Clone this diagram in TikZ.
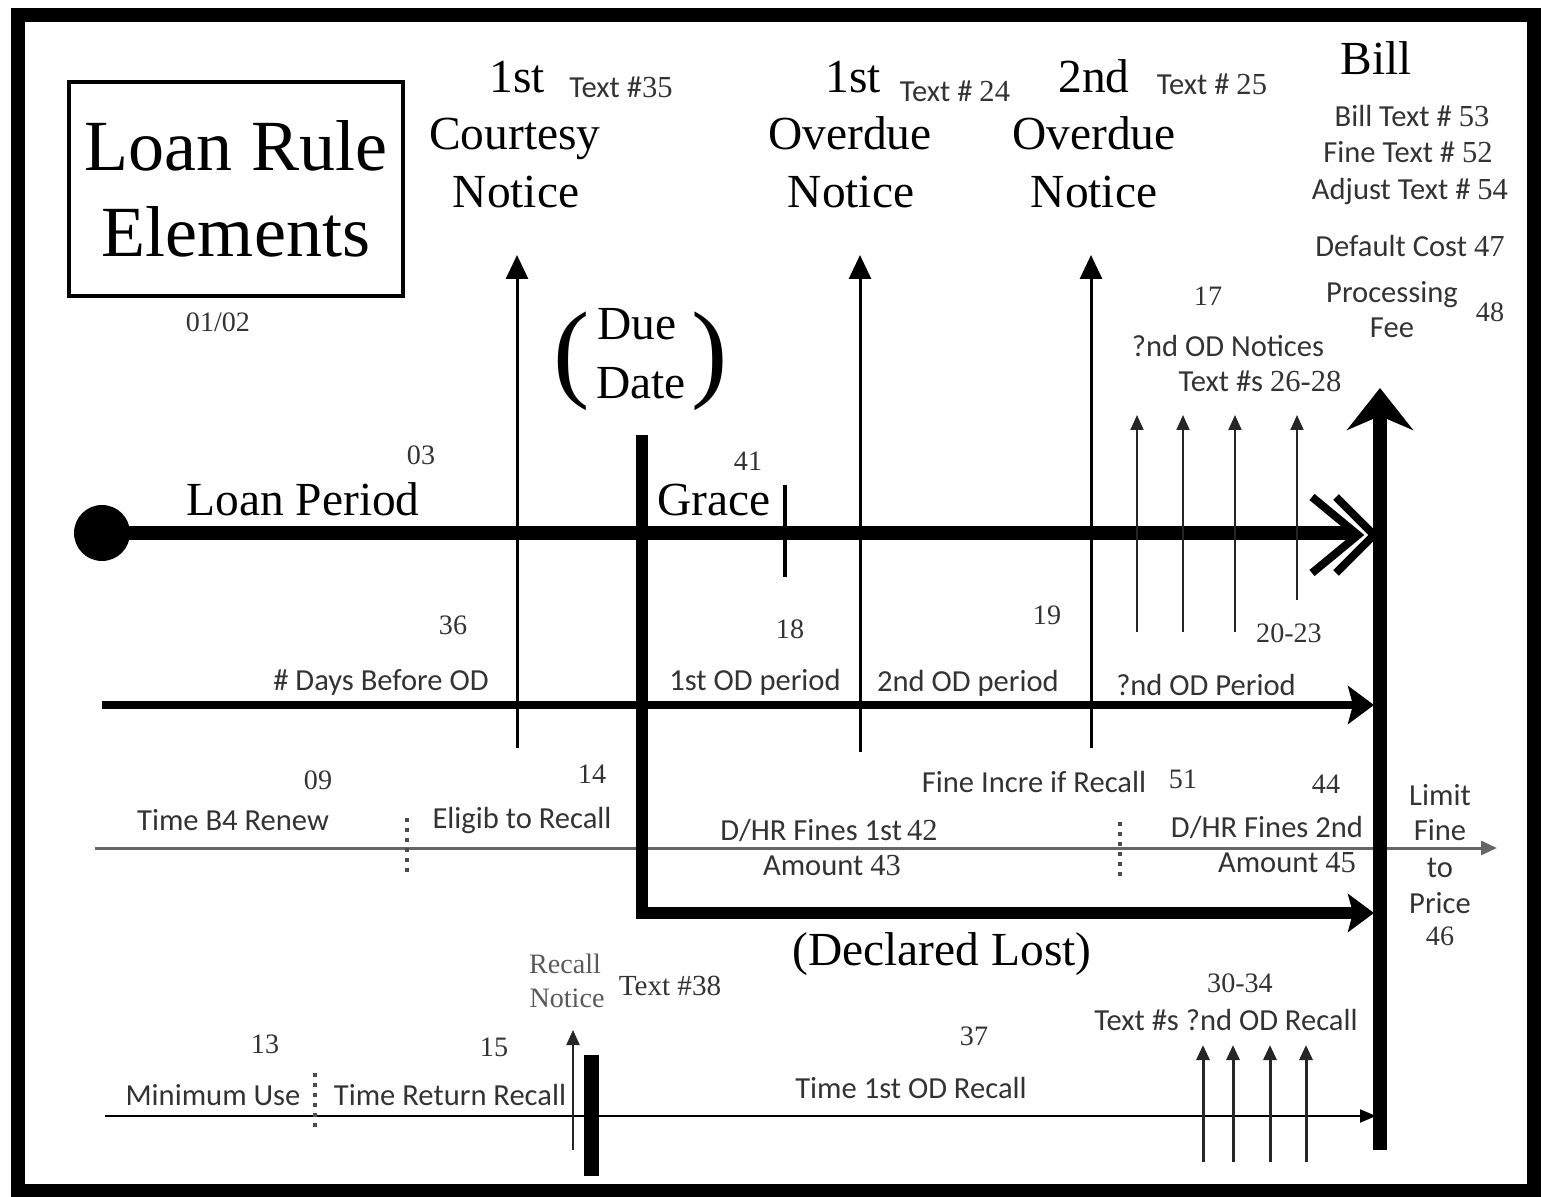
\documentclass[tikz,border=0pt]{standalone}
\usepackage{fontspec}
\setmainfont{Liberation Serif}
\newfontfamily\lblfont{Carlito}
\usetikzlibrary{arrows.meta,positioning}
\newcommand\serifnum[1]{{\rmfamily #1}}

\begin{document}
\begin{tikzpicture}[x=0.1mm,y=-0.1mm]
\useasboundingbox (0,0) rectangle (1542,1197);
% Loan rule timeline. Units are pixels of the 1542 x 1197 sheet, y downwards.
\tikzset{
  big/.style={font=\fontsize{13.5}{15}\selectfont,inner sep=0pt,anchor=base},
  lbl/.style={font=\lblfont\fontsize{8.7}{10}\selectfont,text=black!80,inner sep=0pt,anchor=base},
  num/.style={font=\fontsize{8}{9}\selectfont,text=black!80,inner sep=0pt,anchor=base},
  paren/.style={font=\fontsize{31}{33}\selectfont,inner sep=0pt},
  notice/.style={line width=0.3mm,-{Triangle[length=2.4mm,width=2.2mm]}},
  pin/.style={line width=0.2mm,black!85,-{Triangle[length=1.5mm,width=1.3mm]}},
  divider/.style={line width=0.35mm,black!70,dash pattern=on 0.4mm off 0.6mm},
  heavy/.style={-{Stealth[length=2.6mm,width=3.8mm,inset=0.5mm]}}
}

% Frame and title.
\draw[line width=1.4mm] (18,15) rectangle (1534,1191);
\node[draw,line width=0.45mm,minimum width=33.4mm,minimum height=21.4mm,align=center,
  font=\fontsize{20.5}{24.5}\selectfont] (title) at (236,189) {Loan Rule\\Elements};
\node[num] (titlenum) at (218,332) {01/02};

% Notices along the top.
\node[big] (cn1) at (517,93) {1st};
\node[lbl] (cntext) at (621,98) {Text \#\serifnum{35}};
\node[big] (cn2) at (515,150) {Courtesy};
\node[big] (cn3) at (516,208) {Notice};
\node[big] (on1) at (853,93) {1st};
\node[lbl] (ontext) at (955,102) {Text \# \serifnum{24}};
\node[big] (on2) at (850,150) {Overdue};
\node[big] (on3) at (851,208) {Notice};
\node[big] (tn1) at (1094,93) {2nd};
\node[lbl] (tntext) at (1212,95) {Text \# \serifnum{25}};
\node[big] (tn2) at (1094,150) {Overdue};
\node[big] (tn3) at (1094,208) {Notice};

% Bill block.
\node[big] (bill) at (1376,75) {Bill};
\node[lbl] (billtext) at (1412,127) {Bill Text \# \serifnum{53}};
\node[lbl] (finetext) at (1408,163) {Fine Text \# \serifnum{52}};
\node[lbl] (adjtext) at (1410,200) {Adjust Text \# \serifnum{54}};
\node[lbl] (defcost) at (1410,257) {Default Cost \serifnum{47}};
\node[lbl] (proc1) at (1392,303) {Processing};
\node[lbl] (proc2) at (1392,338) {Fee};
\node[num] (procnum) at (1490,322) {48};
\node[num] (odnum) at (1208,306) {17};
\node[lbl] (odn1) at (1228,357) {?nd OD Notices};
\node[lbl] (odn2) at (1260,392) {Text \#s \serifnum{26-28}};

% Due date.
\node[paren] (lpar) at (572,361) {(};
\node[paren] (rpar) at (710,361) {)};
\node[big] (due1) at (637,340) {Due};
\node[big] (due2) at (641,398) {Date};

% Loan period line.
\node[num] (lpnum) at (421,464) {03};
\node[big] (lp) at (303,516) {Loan Period};
\node[num] (grnum) at (748,470) {41};
\node[big] (grace) at (714,516) {Grace};
\node[circle,fill,minimum size=5.6mm,inner sep=0pt] (start) at (102,533) {};
\coordinate (lpend) at (1352,533);
\draw[line width=1.4mm] (start.center) -- (lpend);
\draw[line width=0.8mm] (1312,497) -- (1358,535) -- (1312,573);
\draw[line width=0.8mm] (1336,497) -- (1374,535) -- (1336,573);
\draw[line width=0.4mm] (785,485) -- (785,577);

% Overdue periods.
\node[num] (dbnum) at (453,635) {36};
\node[lbl] (db) at (381,690) {\# Days Before OD};
\node[num] (p1num) at (790,638) {18};
\node[lbl] (p1) at (755,690) {1st OD period};
\node[num] (p2num) at (1047,624) {19};
\node[lbl] (p2) at (968,691) {2nd OD period};
\node[num] (p3num) at (1289,642) {20-23};
\node[lbl] (p3) at (1206,695) {?nd OD Period};
\coordinate (odstart) at (102,705);
\coordinate (odtip) at (1374,705);
\draw[line width=0.8mm,heavy] (odstart) -- (odtip);

% Notice arrows.
\coordinate (cnfoot) at (517,748);
\coordinate (cntip) at (517,255);
\draw[notice] (cnfoot) -- (cntip);
\coordinate (onfoot) at (860,752);
\coordinate (ontip) at (860,255);
\draw[notice] (onfoot) -- (ontip);
\coordinate (tnfoot) at (1091,748);
\coordinate (tntip) at (1091,255);
\draw[notice] (tnfoot) -- (tntip);
\foreach \x/\y in {1137/632,1183/632,1235/632,1297/600}
  \draw[pin] (\x,\y) -- (\x,415);

% Fines line.
\node[num] (rnnum) at (318,789) {09};
\node[lbl] (rn) at (233,830) {Time B4 Renew};
\node[num] (elnum) at (592,783) {14};
\node[lbl] (el) at (522,828) {Eligib to Recall};
\node[lbl] (fi) at (1034,792) {Fine Incre if Recall};
\node[num] (finum) at (1183,788) {51};
\node[num] (f2num) at (1326,793) {44};
\node[lbl] (f1a) at (829,840) {D/HR Fines 1st\,\serifnum{42}};
\node[lbl] (f1b) at (832,875) {Amount \serifnum{43}};
\node[lbl] (f2a) at (1267,837) {D/HR Fines 2nd};
\node[lbl] (f2b) at (1287,872) {Amount \serifnum{45}};
\node[lbl] (lim1) at (1440,805) {Limit};
\node[lbl] (lim2) at (1440,840) {Fine};
\node[lbl] (lim3) at (1440,877) {to};
\node[lbl] (lim4) at (1440,913) {Price};
\node[num] (limnum) at (1440,945) {46};
\coordinate (fstart) at (95,848);
\coordinate (ftip) at (1497,848);
\draw[line width=0.3mm,black!60,-{Triangle[length=1.6mm,width=1.4mm]}] (fstart) -- (ftip);
\draw[divider] (407,818) -- (407,876);
\draw[divider] (1120,822) -- (1120,876);

% Declared lost.
\coordinate (ddtop) at (642,435);
\coordinate (ddcorner) at (642,913);
\coordinate (dltip) at (1374,913);
\draw[line width=1.15mm,heavy] (ddtop) -- (ddcorner) -- (dltip);
\node[big] (lost) at (942,965) {(Declared Lost)};

% Bill arrow.
\coordinate (billfoot) at (1380,1150);
\coordinate (billtip) at (1380,388);
\draw[line width=1.4mm,-{Stealth[length=4.2mm,width=6.6mm,inset=1.4mm]}] (billfoot) -- (billtip);

% Recall line.
\node[font=\fontsize{8}{9}\selectfont,text=black!65,inner sep=0pt,anchor=base] (rc1) at (565,973) {Recall};
\node[font=\fontsize{8}{9}\selectfont,text=black!65,inner sep=0pt,anchor=base] (rc2) at (567,1007) {Notice};
\node[font=\fontsize{8.3}{9}\selectfont,text=black!80,inner sep=0pt,anchor=base] (rctext) at (670,995) {Text \#38};
\node[num] (munum) at (265,1053) {13};
\node[lbl] (mu) at (213,1105) {Minimum Use};
\node[num] (trnum) at (494,1056) {15};
\node[lbl] (tr) at (450,1105) {Time Return Recall};
\node[num] (t1num) at (974,1045) {37};
\node[lbl] (t1) at (911,1098) {Time 1st OD Recall};
\node[num] (t2num) at (1240,992) {30-34};
\node[lbl] (t2) at (1226,1030) {Text \#s ?nd OD Recall};
\coordinate (rstart) at (105,1116);
\coordinate (rtip) at (1376,1116);
\draw[line width=0.2mm,-{Triangle[length=1.6mm,width=1.3mm]}] (rstart) -- (rtip);
\draw[divider] (315,1073) -- (315,1130);
\coordinate (rcfoot) at (573,1150);
\coordinate (rctip) at (573,1030);
\draw[pin] (rcfoot) -- (rctip);
\draw[line width=1.5mm] (591,1055) -- (591,1176);
\foreach \x in {1203,1233,1270,1306}
  \draw[pin,line width=0.3mm] (\x,1162) -- (\x,1045);
\end{tikzpicture}
\end{document}
